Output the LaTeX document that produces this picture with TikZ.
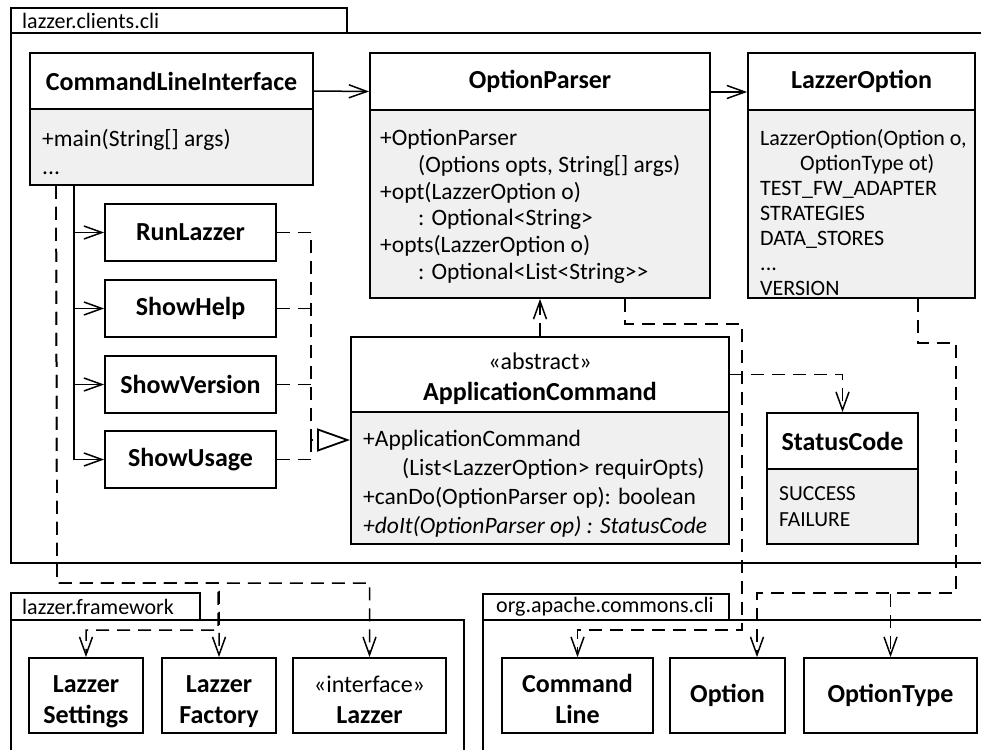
\documentclass[tikz,border=0pt]{standalone}
\usepackage{fontspec}
\setmainfont{Carlito}
\usetikzlibrary{arrows.meta}
\definecolor{compfill}{HTML}{F0F0F0}
\newcommand{\umlhead}{\fontsize{26}{31}\selectfont\bfseries}
\newcommand{\umlbody}{\fontsize{23.5}{27}\selectfont}
\newcommand{\umlpkg}{\fontsize{22}{26}\selectfont}
% struts that fix the vertical placement of two-line class names
\newcommand{\topline}[1]{\rule{0pt}{#1}}
\newcommand{\botline}{\rule[-7pt]{0pt}{7pt}}
\begin{document}
\begin{tikzpicture}[x=1pt,y=-1pt,
  hdr/.style={draw, line width=1.8pt, fill=white, font=\umlhead, align=center, inner sep=0pt},
  comp/.style={draw, line width=1.8pt, fill=compfill, inner sep=0pt},
  lines/.style={anchor=north west, align=left, inner sep=0pt, font=\umlbody},
  pkgtab/.style={draw, line width=1.8pt, fill=white},
  pkgname/.style={anchor=west, inner sep=0pt, font=\umlpkg},
  conn/.style={line width=1.5pt},
  assoc/.style={conn, -{Straight Barb[length=18pt,width=13pt]}},
  depline/.style={conn, dash pattern=on 13pt off 8pt},
  dep/.style={depline, -{Straight Barb[length=18pt,width=13pt]}},
  realize/.style={depline, -{Triangle[open, length=33pt, width=23pt, fill=white, line width=1.8pt]}}]
\useasboundingbox (0,0) rectangle (981,749);
\clip (0,0) rectangle (981,749);

% ---------- packages ----------
\draw[pkgtab] (11,8) rectangle (347,33);
\draw[line width=1.8pt] (11,33) rectangle (1000,563);
\node[pkgname] (pkgcli) at (22,21) {lazzer.clients.cli};

\draw[pkgtab] (11,593) rectangle (200,620);
\draw[line width=1.8pt] (11,620) rectangle (464,770);
\node[pkgname] (pkgfw) at (22,607) {lazzer.framework};

\draw[pkgtab] (483,594) rectangle (729,620);
\draw[line width=1.8pt] (483,620) rectangle (1000,770);
\node[pkgname] (pkgapache) at (496,607) {org.apache.commons.cli};

% ---------- CommandLineInterface ----------
\node[hdr, minimum width=283pt, minimum height=56pt] (cliH) at (171.5,81) {CommandLineInterface};
\node[comp, minimum width=283pt, minimum height=76pt] (cliB) at (171.5,147) {};
\node[lines, font=\fontsize{23.5}{28}\selectfont] (cliT) at (42,129) {+main(String[] args)\\...};

% ---------- OptionParser ----------
\node[hdr, minimum width=340pt, minimum height=57pt] (opH) at (540,81.5) {OptionParser};
\node[comp, minimum width=340pt, minimum height=188pt] (opB) at (540,204) {};
\node[lines, font=\fontsize{23.5}{26.8}\selectfont] (opT) at (380,129) {+OptionParser\\
  \hspace*{38pt}(Options opts, String[] args)\\
  +opt(LazzerOption o)\\
  \hspace*{38pt}: Optional<String>\\
  +opts(LazzerOption o)\\
  \hspace*{38pt}: Optional<List<String>{}>};

% ---------- LazzerOption ----------
\node[hdr, minimum width=227pt, minimum height=57pt] (loH) at (861.5,81.5) {LazzerOption};
\node[comp, minimum width=227pt, minimum height=188pt] (loB) at (861.5,204) {};
\node[lines, font=\fontsize{22}{25}\selectfont] (loT) at (760,129.5) {LazzerOption(Option o,\\
  \hspace*{40pt}OptionType ot)\\
  TEST\_FW\_ADAPTER\\
  STRATEGIES\\
  DATA\_STORES\\
  ...\\
  VERSION};

% ---------- commands ----------
\node[hdr, minimum width=171pt, minimum height=57pt] (run) at (190.5,232.5) {RunLazzer};
\node[hdr, minimum width=171pt, minimum height=57pt] (help) at (190.5,308.5) {ShowHelp};
\node[hdr, minimum width=171pt, minimum height=57pt] (version) at (190.5,384.5) {ShowVersion};
\node[hdr, minimum width=171pt, minimum height=57pt] (usage) at (190.5,459.5) {ShowUsage};

% ---------- ApplicationCommand ----------
\node[hdr, minimum width=378pt, minimum height=75pt] (acH) at (540,374.5)
  {\topline{27pt}{\mdseries\fontsize{24}{31}\selectfont «abstract»}\\ApplicationCommand\botline};
\node[comp, minimum width=378pt, minimum height=132pt] (acB) at (540,478) {};
\node[lines, font=\fontsize{23.5}{29}\selectfont] (acT) at (363,430) {+ApplicationCommand\\
  \hspace*{39pt}(List<LazzerOption> requirOpts)\\
  +canDo(OptionParser op): boolean\\
  \textit{+doIt(OptionParser op) : StatusCode}};

% ---------- StatusCode ----------
\node[hdr, minimum width=151pt, minimum height=56pt] (scH) at (842.5,441) {StatusCode};
\node[comp, minimum width=151pt, minimum height=75pt] (scB) at (842.5,506.5) {};
\node[lines, font=\fontsize{21.5}{26}\selectfont] (scT) at (779,486) {SUCCESS\\FAILURE};

% ---------- lazzer.framework ----------
\node[hdr, minimum width=114pt, minimum height=75pt] (settings) at (86,695.5)
  {\topline{31pt}Lazzer\\Settings\botline};
\node[hdr, minimum width=114pt, minimum height=75pt] (factory) at (219,695.5)
  {\topline{31pt}Lazzer\\Factory\botline};
\node[hdr, minimum width=153pt, minimum height=75pt] (lazzer) at (369.5,695.5)
  {\topline{31pt}{\mdseries\fontsize{24}{31}\selectfont «interface»}\\Lazzer\botline};

% ---------- org.apache.commons.cli ----------
\node[hdr, minimum width=151pt, minimum height=75pt] (cmdline) at (577.5,695.5)
  {\topline{31pt}Command\\Line\botline};
\node[hdr, minimum width=115pt, minimum height=75pt] (option) at (727.5,695.5) {Option};
\node[hdr, minimum width=173pt, minimum height=75pt] (optiontype) at (890.5,695.5) {OptionType};

% ---------- associations ----------
\draw[assoc] ([yshift=-10pt]cliH.east) -- ([yshift=-10pt]opH.west);
\draw[assoc] ([yshift=-10.5pt]opH.east) -- ([yshift=-10.5pt]loH.west);

\coordinate (trunk) at ([xshift=45pt]cliB.south west);
\draw[assoc] (trunk) |- (run.west);
\draw[assoc] (trunk) |- (help.west);
\draw[assoc] (trunk) |- (version.west);
\draw[assoc] (trunk) |- (usage.west);

% ---------- generalisation ----------
\coordinate (gen) at (311,440);
\draw[realize] (run.east) -| (gen) -- (gen -| acB.west);
\draw[depline] (help.east) -- (help.east -| gen);
\draw[depline] (version.east) -- (version.east -| gen);
\draw[depline] (usage.east) -| (gen);

% ---------- dependencies ----------
\draw[dep] (acH.north) -- (opB.south);
\draw[dep] (acH.east) -| (scH.north);

\coordinate (cliDep) at ([xshift=27pt]cliB.south west);
\coordinate (fwRow) at (57,583);
\coordinate (fwMid) at (218,630);
\draw[dep] (cliDep) -- (fwRow) -| (lazzer.north);
\draw[dep] (cliDep) -- (fwRow) -| (factory.north);
\draw[dep] (cliDep) -- (fwRow) -| (fwMid) -| (settings.north);

\coordinate (opTurn) at (742,324);
\coordinate (opLow) at (742,630);
\draw[dep] ([xshift=85pt]opB.south) |- (opTurn) -- (opLow) -| (cmdline.north);

\coordinate (loTurn) at (956,343);
\coordinate (loLow) at (956,593);
\draw[dep] ([xshift=56.5pt]loB.south) |- (loTurn) -- (loLow) -| ([xshift=29.5pt]option.north);
\draw[dep] ([xshift=56.5pt]loB.south) |- (loTurn) -- (loLow) -| (optiontype.north);
\end{tikzpicture}
\end{document}
